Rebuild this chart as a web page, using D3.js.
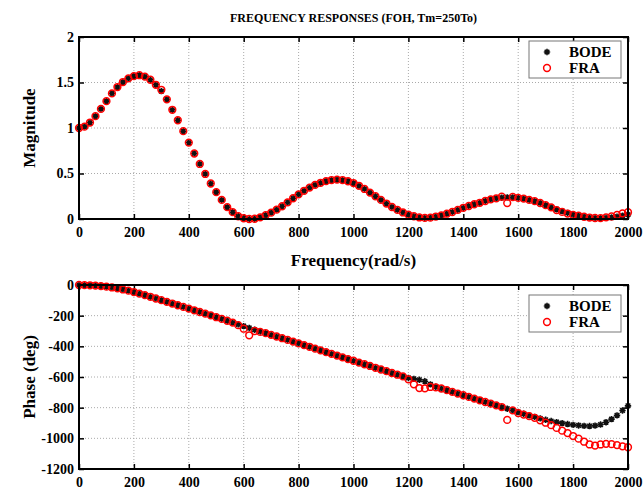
<!DOCTYPE html>
<html>
<head>
<meta charset="utf-8">
<script src="https://cdn.jsdelivr.net/npm/d3@7"></script>
<style>
  body { margin: 0; background: #fff; }
  svg { display: block; }
  text { font-family: "Times New Roman", "Liberation Serif", serif; font-weight: bold; fill: #000; }
</style>
</head>
<body>
<svg id="chart" width="644" height="490"></svg>
<script>
// frequency grid (rad/s)
var freq = [
  0, 20, 40, 60, 80, 100, 120, 140, 160, 180,
  200, 220, 240, 260, 280, 300, 320, 340, 360, 380,
  400, 420, 440, 460, 480, 500, 520, 540, 560, 580,
  600, 620, 640, 660, 680, 700, 720, 740, 760, 780,
  800, 820, 840, 860, 880, 900, 920, 940, 960, 980,
  1000, 1020, 1040, 1060, 1080, 1100, 1120, 1140, 1160, 1180,
  1200, 1220, 1240, 1260, 1280, 1300, 1320, 1340, 1360, 1380,
  1400, 1420, 1440, 1460, 1480, 1500, 1520, 1540, 1560, 1580,
  1600, 1620, 1640, 1660, 1680, 1700, 1720, 1740, 1760, 1780,
  1800, 1820, 1840, 1860, 1880, 1900, 1920, 1940, 1960, 1980,
  2000
];

var magBode = [
  1.00, 1.015, 1.06, 1.13, 1.21, 1.295, 1.38, 1.45, 1.505, 1.545,
  1.57, 1.58, 1.565, 1.53, 1.475, 1.405, 1.315, 1.20, 1.085, 0.965,
  0.84, 0.72, 0.605, 0.495, 0.39, 0.295, 0.21, 0.13, 0.075, 0.03,
  0.008, 0.0, 0.003, 0.018, 0.042, 0.07, 0.103, 0.14, 0.182, 0.228,
  0.27, 0.31, 0.345, 0.375, 0.398, 0.416, 0.428, 0.432, 0.428, 0.415,
  0.395, 0.365, 0.33, 0.29, 0.25, 0.21, 0.17, 0.132, 0.10, 0.072,
  0.048, 0.03, 0.017, 0.012, 0.015, 0.027, 0.04, 0.058, 0.077, 0.10,
  0.123, 0.143, 0.162, 0.178, 0.198, 0.215, 0.226, 0.234, 0.238, 0.238,
  0.232, 0.224, 0.21, 0.196, 0.176, 0.152, 0.128, 0.106, 0.087, 0.066,
  0.05, 0.037, 0.025, 0.016, 0.011, 0.01, 0.013, 0.018, 0.025, 0.037,
  0.048
];

var magFra = [
  1.00, 1.015, 1.06, 1.13, 1.21, 1.295, 1.38, 1.45, 1.505, 1.545,
  1.57, 1.58, 1.565, 1.53, 1.475, 1.42, 1.315, 1.20, 1.085, 0.965,
  0.84, 0.72, 0.605, 0.495, 0.39, 0.295, 0.21, 0.13, 0.075, 0.03,
  0.008, 0.0, 0.003, 0.018, 0.042, 0.07, 0.103, 0.14, 0.182, 0.228,
  0.27, 0.31, 0.345, 0.375, 0.398, 0.416, 0.428, 0.432, 0.428, 0.415,
  0.395, 0.365, 0.33, 0.29, 0.25, 0.21, 0.17, 0.132, 0.10, 0.072,
  0.048, 0.03, 0.017, 0.012, 0.015, 0.027, 0.04, 0.058, 0.077, 0.10,
  0.123, 0.143, 0.162, 0.178, 0.198, 0.215, 0.226, 0.245, 0.175, 0.242,
  0.232, 0.224, 0.21, 0.196, 0.176, 0.152, 0.128, 0.098, 0.078, 0.06,
  0.046, 0.037, 0.025, 0.016, 0.011, 0.01, 0.018, 0.028, 0.045, 0.062,
  0.074
];

var phaseBode = [
  0, -1, -2, -4, -7, -11, -16, -22, -29, -37,
  -46, -56, -66, -77, -88, -99, -110, -121, -132, -143,
  -154, -165, -176, -187, -198, -210, -221, -233, -245, -257,
  -268, -280, -292, -303, -314, -325, -336, -347, -358, -369,
  -381, -392, -403, -415, -426, -438, -449, -460, -472, -483,
  -494, -506, -517, -528, -540, -551, -562, -574, -585, -596,
  -606, -612, -618, -628, -648, -664, -675, -686, -697, -708,
  -719, -730, -741, -752, -763, -774, -785, -796, -807, -818,
  -829, -840, -850, -860, -870, -879, -887, -894, -901, -907,
  -912, -916, -919, -920, -917, -910, -895, -875, -850, -818,
  -788
];

var phaseFra = [
  0, -1, -2, -4, -7, -11, -16, -22, -29, -37,
  -46, -56, -66, -77, -88, -99, -110, -121, -132, -143,
  -154, -165, -176, -187, -198, -210, -221, -233, -245, -262,
  -285, -328, -300, -306, -314, -325, -336, -347, -358, -369,
  -381, -392, -403, -415, -426, -438, -449, -460, -472, -483,
  -494, -506, -517, -528, -540, -551, -562, -574, -585, -596,
  -615, -648, -672, -674, -665, -668, -675, -686, -697, -708,
  -719, -730, -741, -752, -763, -774, -785, -796, -880, -818,
  -835, -845, -855, -866, -882, -898, -914, -932, -950, -966,
  -985, -1002, -1022, -1040, -1047, -1040, -1036, -1038, -1044, -1052,
  -1058
];

var xTicks    = [0, 200, 400, 600, 800, 1000, 1200, 1400, 1600, 1800, 2000];
var magTicks  = [0, 0.5, 1, 1.5, 2];
var phTicks   = [0, -200, -400, -600, -800, -1000, -1200];
var seriesNames = ["BODE", "FRA"];

var svg = d3.select("#chart");

var L = 79, R = 628;
var starPath = "M-3.2,0H3.2M0,-3.2V3.2M-2.3,-2.3L2.3,2.3M-2.3,2.3L2.3,-2.3";
// plain hyphen for negative numbers, like the original
var numFmt = function(d){ return String(d); };

function panel(top, bottom, ydomain, yticks, ylabel, bodeY, fraY, legendTop) {
  var x = d3.scaleLinear().domain([0, 2000]).range([L, R]);
  var y = d3.scaleLinear().domain(ydomain).range([bottom, top]);
  var g = svg.append("g");

  // grid
  g.selectAll(".gx").data(xTicks.slice(1, -1)).enter().append("line")
    .attr("x1", function(d){ return x(d); }).attr("x2", function(d){ return x(d); })
    .attr("y1", top).attr("y2", bottom)
    .style("stroke", "#aaa").style("stroke-width", 1).style("stroke-dasharray", "1,2");
  g.selectAll(".gy").data(yticks.slice(1, -1)).enter().append("line")
    .attr("x1", L).attr("x2", R)
    .attr("y1", function(d){ return y(d); }).attr("y2", function(d){ return y(d); })
    .style("stroke", "#aaa").style("stroke-width", 1).style("stroke-dasharray", "1,2");

  // axes (ticks inward on every side)
  var ax = [
    d3.axisBottom(x).tickValues(xTicks).tickSizeInner(-5).tickSizeOuter(0).tickFormat(numFmt),
    d3.axisTop(x).tickValues(xTicks).tickSizeInner(-5).tickSizeOuter(0).tickFormat(""),
    d3.axisLeft(y).tickValues(yticks).tickSizeInner(-5).tickSizeOuter(0).tickFormat(numFmt),
    d3.axisRight(y).tickValues(yticks).tickSizeInner(-5).tickSizeOuter(0).tickFormat("")
  ];
  var pos = ["translate(0," + bottom + ")", "translate(0," + top + ")", "translate(" + L + ",0)", "translate(" + R + ",0)"];
  ax.forEach(function(a, k) {
    var ga = g.append("g").attr("transform", pos[k]).call(a);
    ga.select(".domain").remove();
    ga.selectAll(".tick line").style("stroke", "#000").style("stroke-width", 1.5);
    ga.selectAll("text").style("font-size", "14px").style("font-family", "'Times New Roman','Liberation Serif',serif")
      .style("font-weight", "bold").attr("fill", "#000");
    if (k == 0) ga.selectAll("text").attr("dy", "0.95em").attr("y", 5);
    if (k == 2) ga.selectAll("text").attr("x", -5);
  });

  // markers
  g.selectAll(".bode").data(freq).enter().append("path")
    .attr("d", starPath)
    .attr("transform", function(d, i){ return "translate(" + x(d) + "," + y(bodeY[i]) + ")"; })
    .style("stroke", "#111").style("stroke-width", 1.6).style("fill", "none");
  g.selectAll(".fra").data(freq).enter().append("circle")
    .attr("cx", function(d){ return x(d); })
    .attr("cy", function(d, i){ return y(fraY[i]); })
    .attr("r", 3.4)
    .style("stroke", "#f00").style("stroke-width", 1.5).style("fill", "none");

  // frame
  g.append("rect").attr("x", L).attr("y", top).attr("width", R - L).attr("height", bottom - top)
    .style("fill", "none").style("stroke", "#000").style("stroke-width", 2);

  // y label
  g.append("text")
    .attr("transform", "translate(35," + ((top + bottom) / 2) + ") rotate(-90)")
    .attr("text-anchor", "middle")
    .style("font-size", "17px")
    .text(ylabel);

  // legend
  var lg = g.append("g").attr("transform", "translate(529," + legendTop + ")");
  lg.append("rect").attr("width", 92).attr("height", 37)
    .style("fill", "#fff").style("stroke", "#777").style("stroke-width", 1);
  lg.append("path").attr("d", starPath).attr("transform", "translate(18,11)")
    .style("stroke", "#111").style("stroke-width", 1.6).style("fill", "none");
  lg.append("circle").attr("cx", 18).attr("cy", 27).attr("r", 3.4)
    .style("stroke", "#f00").style("stroke-width", 1.5).style("fill", "none");
  lg.selectAll(".lt").data(seriesNames).enter().append("text")
    .attr("x", 40).attr("y", function(d, i){ return 16 + i * 16; })
    .style("font-size", "15px")
    .text(function(d){ return d; });
}

panel(37, 219, [0, 2], magTicks, "Magnitude", magBode, magFra, 41);
panel(285, 469, [-1200, 0], phTicks, "Phase (deg)", phaseBode, phaseFra, 295);

svg.append("text").attr("x", (L + R) / 2).attr("y", 22).attr("text-anchor", "middle")
  .style("font-size", "12px").text("FREQUENCY RESPONSES (FOH, Tm=250To)");
svg.append("text").attr("x", (L + R) / 2).attr("y", 266).attr("text-anchor", "middle")
  .style("font-size", "17px").text("Frequency(rad/s)");
</script>
</body>
</html>
